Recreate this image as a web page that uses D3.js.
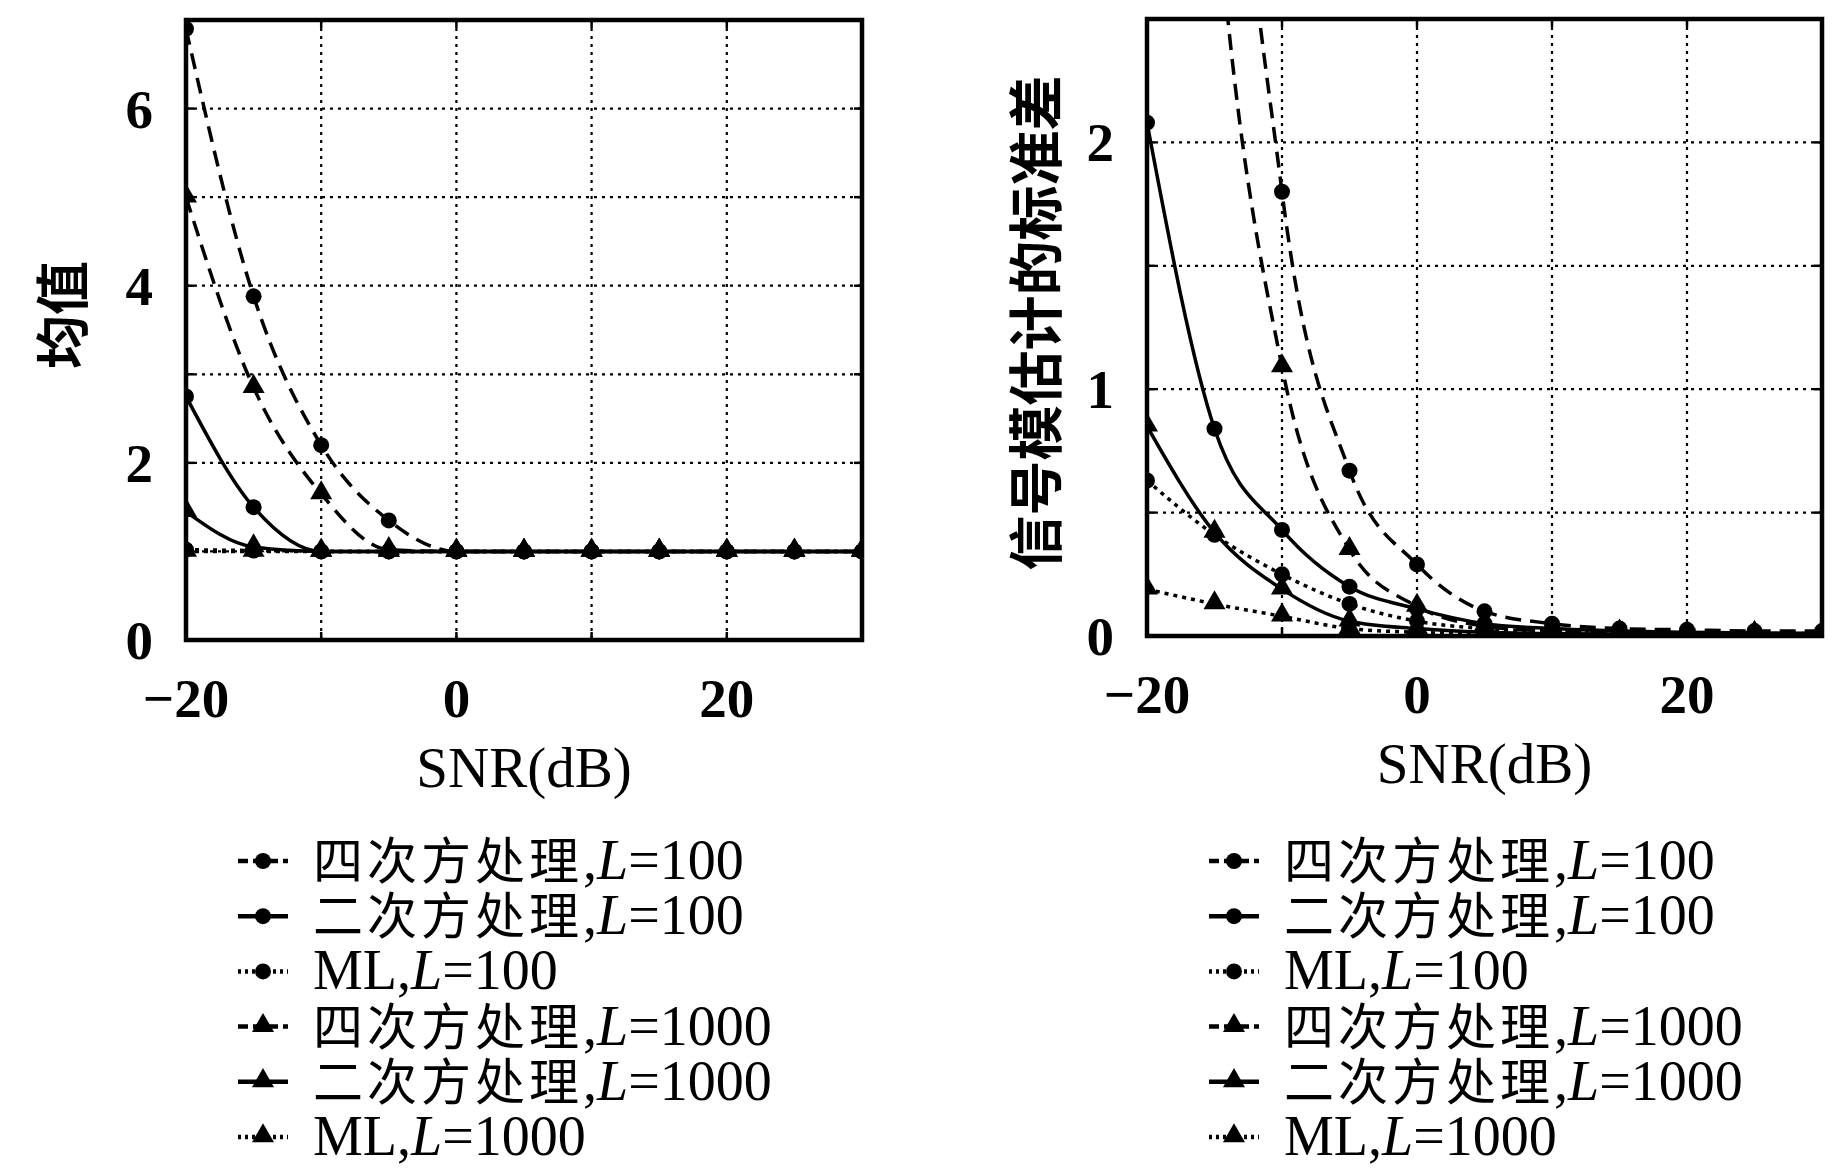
<!DOCTYPE html>
<html>
<head>
<meta charset="utf-8">
<script src="https://cdn.jsdelivr.net/npm/d3@7"></script>
<style>
  body { margin: 0; background: #fff; }
  svg { display: block; }
</style>
</head>
<body>
<svg id="chart" width="1845" height="1172"></svg>
<script>
// SNR axis (dB)
const snr = [-20, -15, -10, -5, 0, 5, 10, 15, 20, 25, 30];

// series: method name, L, style
const methodNames = ["四次方处理", "二次方处理", "ML", "四次方处理", "二次方处理", "ML"];
const blockLen = [100, 100, 100, 1000, 1000, 1000];
const lineKinds = ["dash", "solid", "dot", "dash", "solid", "dot"];
const markerKinds = ["circle", "circle", "circle", "triangle", "triangle", "triangle"];

// left panel: mean
const meanQ4L100  = [6.9, 3.88, 2.2, 1.35, 1.0, 1.0, 1.0, 1.0, 1.0, 1.0, 1.0];
const meanQ2L100  = [2.75, 1.5, 1.0, 1.0, 1.0, 1.0, 1.0, 1.0, 1.0, 1.0, 1.0];
const meanMLL100  = [1.02, 1.01, 1.0, 1.0, 1.0, 1.0, 1.0, 1.0, 1.0, 1.0, 1.0];
const meanQ4L1000 = [5.0, 2.85, 1.65, 1.02, 1.0, 1.0, 1.0, 1.0, 1.0, 1.0, 1.0];
const meanQ2L1000 = [1.45, 1.05, 1.0, 1.0, 1.0, 1.0, 1.0, 1.0, 1.0, 1.0, 1.0];
const meanMLL1000 = [1.0, 1.0, 1.0, 1.0, 1.0, 1.0, 1.0, 1.0, 1.0, 1.0, 1.0];

// right panel: std of signal modulus estimate
const stdQ4L100  = [14, 5.0, 1.8, 0.67, 0.29, 0.1, 0.05, 0.03, 0.025, 0.02, 0.02];
const stdQ2L100  = [2.08, 0.84, 0.43, 0.2, 0.11, 0.05, 0.03, 0.02, 0.015, 0.012, 0.01];
const stdMLL100  = [0.63, 0.41, 0.25, 0.13, 0.06, 0.03, 0.02, 0.015, 0.012, 0.01, 0.01];
const stdQ4L1000 = [8, 3.1, 1.09, 0.35, 0.12, 0.04, 0.02, 0.015, 0.012, 0.01, 0.01];
const stdQ2L1000 = [0.85, 0.42, 0.19, 0.06, 0.03, 0.015, 0.01, 0.008, 0.006, 0.005, 0.005];
const stdMLL1000 = [0.19, 0.13, 0.08, 0.03, 0.015, 0.008, 0.006, 0.005, 0.004, 0.004, 0.004];

// tick labels
const xTickLabels = [-20, 0, 20];
const xGridVals = [-10, 0, 10, 20];
const meanTickLabels = [0, 2, 4, 6];
const meanGridVals = [1, 2, 3, 4, 5, 6];
const stdTickLabels = [0, 1, 2];
const stdGridVals = [0.5, 1, 1.5, 2];

const yTitles = ["均值", "信号模估计的标准差"];
const xTitle = "SNR(dB)";

const svg = d3.select("#chart");
const serif = "'Liberation Serif', 'Times New Roman', serif";
const cjk = "'Noto Sans CJK SC', sans-serif";

const dashFor = { dash: "16,9", solid: null, dot: "4,5" };

function drawMarker(g, kind, x, y) {
  if (kind === "circle") {
    g.append("circle").attr("cx", x).attr("cy", y).attr("r", 8).attr("fill", "#000");
  } else {
    g.append("path")
      .attr("d", d3.symbol().type(d3.symbolTriangle).size(210)())
      .attr("transform", "translate(" + x + "," + (y - 1) + ")")
      .attr("fill", "#000");
  }
}

function drawPanel(p) {
  const scX = d3.scaleLinear().domain([-20, 30]).range([p.x0, p.x1]);
  const scY = d3.scaleLinear().domain([0, p.yMax]).range([p.y1, p.y0]);
  const g = svg.append("g");

  const clipId = "clip" + p.id;
  svg.append("clipPath").attr("id", clipId)
    .append("rect").attr("x", p.x0).attr("y", p.y0)
    .attr("width", p.x1 - p.x0).attr("height", p.y1 - p.y0);

  // grid
  g.selectAll(".vg").data(xGridVals).enter().append("line")
    .attr("x1", d => scX(d)).attr("x2", d => scX(d))
    .attr("y1", p.y0).attr("y2", p.y1)
    .attr("stroke", "#000").attr("stroke-width", 2.2).attr("stroke-dasharray", "3,5");
  g.selectAll(".hg").data(p.grid).enter().append("line")
    .attr("y1", d => scY(d)).attr("y2", d => scY(d))
    .attr("x1", p.x0).attr("x2", p.x1)
    .attr("stroke", "#000").attr("stroke-width", 2.2).attr("stroke-dasharray", "3,5");

  // series
  const plot = g.append("g").attr("clip-path", "url(#" + clipId + ")");
  const lnMkr = d3.line().curve(d3.curveMonotoneX)
    .x((d, i) => scX(snr[i])).y(d => scY(d));
  p.series.forEach((vals, k) => {
    plot.append("path").attr("d", lnMkr(vals))
      .attr("fill", "none").attr("stroke", "#000").attr("stroke-width", 3.5)
      .attr("stroke-dasharray", dashFor[lineKinds[k]]);
    vals.forEach((v, i) => {
      if (v <= p.yMax * 1.05) drawMarker(plot, markerKinds[k], scX(snr[i]), scY(v));
    });
  });

  // inward ticks on all sides
  const tl = 8;
  [-20, ...xGridVals, 30].forEach(v => {
    g.append("line").attr("x1", scX(v)).attr("x2", scX(v)).attr("y1", p.y1).attr("y2", p.y1 - tl)
      .attr("stroke", "#000").attr("stroke-width", 2.5);
    g.append("line").attr("x1", scX(v)).attr("x2", scX(v)).attr("y1", p.y0).attr("y2", p.y0 + tl)
      .attr("stroke", "#000").attr("stroke-width", 2.5);
  });
  p.grid.forEach(v => {
    g.append("line").attr("x1", p.x0).attr("x2", p.x0 + tl).attr("y1", scY(v)).attr("y2", scY(v))
      .attr("stroke", "#000").attr("stroke-width", 2.5);
    g.append("line").attr("x1", p.x1).attr("x2", p.x1 - tl).attr("y1", scY(v)).attr("y2", scY(v))
      .attr("stroke", "#000").attr("stroke-width", 2.5);
  });

  // frame
  g.append("rect").attr("x", p.x0).attr("y", p.y0)
    .attr("width", p.x1 - p.x0).attr("height", p.y1 - p.y0)
    .attr("fill", "none").attr("stroke", "#000").attr("stroke-width", 4.5);

  // tick labels
  const fmt = d3.format("d");
  g.selectAll(".xt").data(xTickLabels).enter().append("text")
    .attr("x", d => scX(d)).attr("y", p.y1 + 77)
    .attr("text-anchor", "middle")
    .attr("font-family", serif).attr("font-size", 55).attr("font-weight", "bold")
    .text(d => fmt(d));
  g.selectAll(".yt").data(p.ticks).enter().append("text")
    .attr("x", p.x0 - 33).attr("y", d => scY(d) + 19)
    .attr("text-anchor", "end")
    .attr("font-family", serif).attr("font-size", 55).attr("font-weight", "bold")
    .text(d => fmt(d));

  // axis titles
  g.append("text")
    .attr("x", (p.x0 + p.x1) / 2).attr("y", p.y1 + 147)
    .attr("text-anchor", "middle")
    .attr("font-family", serif).attr("font-size", 57)
    .text(xTitle);
  g.append("text")
    .attr("transform", "translate(" + p.titleX + "," + p.titleY + ") rotate(-90)")
    .attr("text-anchor", "middle").attr("dominant-baseline", "central")
    .attr("font-family", cjk).attr("font-size", p.titleSize).attr("font-weight", 700)
    .text(p.title);

  // legend
  const lg = svg.append("g").attr("transform", "translate(" + p.legX + "," + p.legY + ")");
  methodNames.forEach((name, k) => {
    const row = lg.append("g").attr("transform", "translate(0," + (k * 55.2) + ")");
    row.append("line").attr("x1", 0).attr("x2", 50).attr("y1", 0).attr("y2", 0)
      .attr("stroke", "#000").attr("stroke-width", 4.5)
      .attr("stroke-dasharray", lineKinds[k] === "dash" ? "10,5" : (lineKinds[k] === "dot" ? "3,4" : null));
    drawMarker(row, markerKinds[k], 25, 0);
    const t = row.append("text").attr("x", 75).attr("y", 18)
      .attr("font-size", 56).attr("font-family", serif);
    if (name === "ML") {
      t.append("tspan").text("ML,");
    } else {
      t.append("tspan").attr("font-family", cjk).attr("font-size", 50)
        .attr("letter-spacing", 4).text(name);
      t.append("tspan").text(",");
    }
    t.append("tspan").attr("font-style", "italic").text("L");
    t.append("tspan").text("=" + blockLen[k]);
  });
}

drawPanel({
  id: "mean", x0: 186, x1: 862, y0: 20, y1: 640, yMax: 7,
  grid: meanGridVals, ticks: meanTickLabels,
  series: [meanQ4L100, meanQ2L100, meanMLL100, meanQ4L1000, meanQ2L1000, meanMLL1000],
  title: yTitles[0], titleX: 59, titleY: 315, titleSize: 54,
  legX: 238, legY: 861
});

drawPanel({
  id: "std", x0: 1147, x1: 1822, y0: 19, y1: 636, yMax: 2.5,
  grid: stdGridVals, ticks: stdTickLabels,
  series: [stdQ4L100, stdQ2L100, stdMLL100, stdQ4L1000, stdQ2L1000, stdMLL1000],
  title: yTitles[1], titleX: 1032, titleY: 323, titleSize: 55,
  legX: 1209, legY: 861
});
</script>
</body>
</html>
